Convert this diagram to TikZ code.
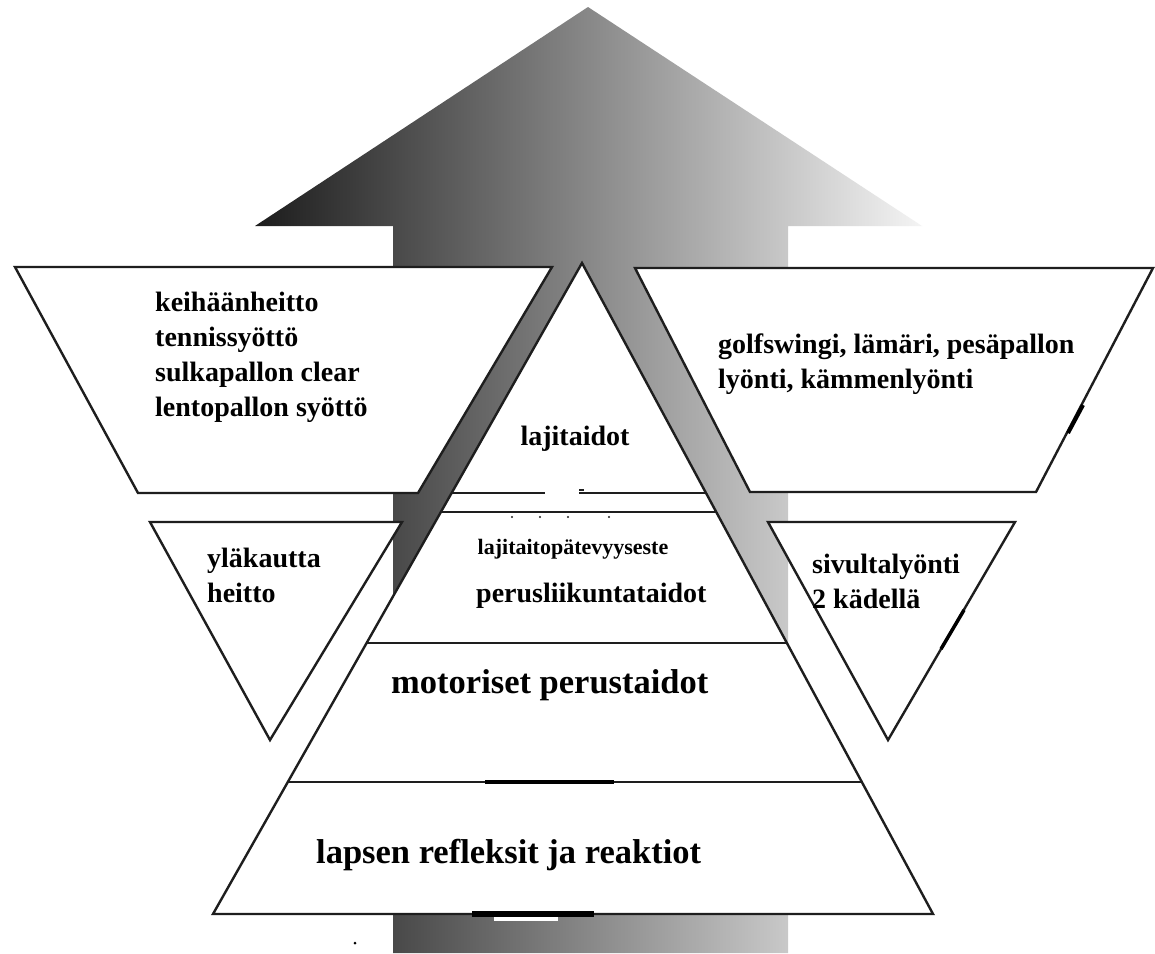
\documentclass[tikz,border=0pt]{standalone}
\usepackage{fontspec}
\setmainfont{Liberation Serif}
\usetikzlibrary{calc}
\definecolor{edgecol}{HTML}{1E1E1E}
\definecolor{gdark}{HTML}{1C1C1C}
\definecolor{glight}{HTML}{F4F4F4}
\tikzset{
  panel/.style={fill=white, draw=edgecol, line width=2.4pt, line join=miter},
  rule/.style={draw=edgecol, line width=2.4pt},
  lbl/.style={font=\bfseries\fontsize{28}{34}\selectfont, inner sep=0pt, anchor=base west},
  biglbl/.style={font=\bfseries\fontsize{34.5}{40}\selectfont, inner sep=0pt, anchor=base west},
  smalllbl/.style={font=\bfseries\fontsize{22}{26}\selectfont, inner sep=0pt, anchor=base},
}
\begin{document}
\begin{tikzpicture}[x=1pt,y=-1pt]
\useasboundingbox (0,0) rectangle (1155,953);
\fill[white] (0,0) rectangle (1155,953);
% big arrow
\shade[left color=gdark, right color=glight]
  (255,226) -- (588,7) -- (922,226) -- (788,226) -- (788,953) -- (393,953) -- (393,226) -- cycle;
% side panels
\filldraw[panel] (15,267) -- (552,267) -- (418,493) -- (138,493) -- cycle;
\filldraw[panel] (635,268) -- (1153,268) -- (1036,492) -- (750,492) -- cycle;
\filldraw[panel] (150,522) -- (402,522) -- (270,740) -- cycle;
\filldraw[panel] (768,522) -- (1015,522) -- (888,740) -- cycle;
% pyramid
\coordinate (A) at (582,263);
\coordinate (BL) at (213,914);
\coordinate (BR) at (933,914);
\filldraw[panel] (A) -- (BR) -- (BL) -- cycle;
\foreach \t in {0.3533,0.3825,0.5837,0.7972}
  \draw[rule] ($(A)!\t!(BL)$) -- ($(A)!\t!(BR)$);
% small marks
\fill[white] (545,491) rectangle (579,496);
\draw[edgecol, line width=1.2pt] (579,490) -- (584,490);
\foreach \x in {512,540,568,609} \fill[edgecol] (\x,517) circle (1.1);
\draw[black, line width=4.5pt] (485,782) -- (614,782);
\draw[black, line width=5.5pt] (472,914) -- (594,914);
\fill[white] (494,917) rectangle (558,921);
\fill[black] (355,943) circle (1.5);
\draw[black, line width=4pt] (1083,405) -- (1068,433);
\draw[black, line width=3.5pt] (964,610) -- (941,649);
% texts
\node[lbl] (t1) at (155,311) {keihäänheitto};
\node[lbl] (t2) at (155,346) {tennissyöttö};
\node[lbl] (t3) at (155,381) {sulkapallon clear};
\node[lbl] (t4) at (155,416) {lentopallon syöttö};
\node[lbl] (g1) at (718,353) {golfswingi, lämäri, pesäpallon};
\node[lbl] (g2) at (718,388) {lyönti, kämmenlyönti};
\node[lbl, anchor=base] (lt) at (575,445) {lajitaidot};
\node[smalllbl] (lp) at (573,554) {lajitaitopätevyyseste};
\node[lbl] (pl) at (476,602) {perusliikuntataidot};
\node[biglbl] (mp) at (391,693) {motoriset perustaidot};
\node[biglbl] (lr) at (316,863) {lapsen refleksit ja reaktiot};
\node[lbl] (y1) at (207,567) {yläkautta};
\node[lbl] (y2) at (207,602) {heitto};
\node[lbl] (s1) at (812,573) {sivultalyönti};
\node[lbl] (s2) at (812,608) {2 kädellä};
\end{tikzpicture}
\end{document}
